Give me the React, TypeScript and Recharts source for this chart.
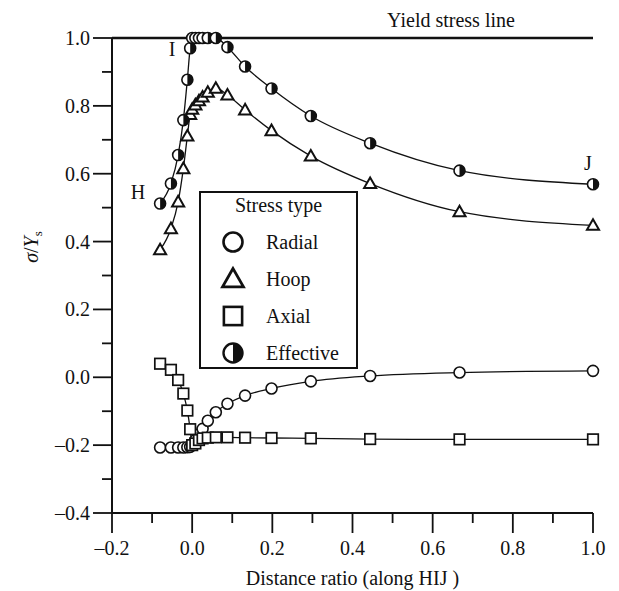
import React from 'react';
import { LineChart, Line, XAxis, YAxis, ReferenceLine, ReferenceDot, Legend } from 'recharts';

// Distance ratio along H–I–J for every sampled point
const distance = [-0.08, -0.053, -0.035, -0.022, -0.012, -0.005, 0, 0.008, 0.017, 0.026, 0.039, 0.059, 0.088, 0.132, 0.198, 0.296, 0.444, 0.667, 1.0];

// Normalised stresses sigma / Ys
const radial = [-0.207, -0.207, -0.207, -0.207, -0.206, -0.205, -0.2, -0.185, -0.168, -0.152, -0.128, -0.103, -0.078, -0.054, -0.033, -0.012, 0.004, 0.014, 0.019];
const hoop = [0.376, 0.438, 0.517, 0.615, 0.711, 0.775, 0.79, 0.803, 0.815, 0.826, 0.84, 0.852, 0.832, 0.788, 0.727, 0.652, 0.571, 0.488, 0.448];
const axial = [0.04, 0.022, -0.008, -0.048, -0.098, -0.153, -0.2, -0.195, -0.185, -0.18, -0.178, -0.177, -0.177, -0.178, -0.179, -0.18, -0.182, -0.183, -0.183];
const effective = [0.512, 0.571, 0.655, 0.758, 0.877, 0.97, 1, 1, 1, 1, 1, 1, 0.973, 0.916, 0.851, 0.77, 0.69, 0.609, 0.569];

const yieldStress = 1.0;

const xTicks = [-0.2, -0.1, 0, 0.1, 0.2, 0.3, 0.4, 0.5, 0.6, 0.7, 0.8, 0.9, 1.0];
const yTicks = [-0.4, -0.3, -0.2, -0.1, 0, 0.1, 0.2, 0.3, 0.4, 0.5, 0.6, 0.7, 0.8, 0.9, 1.0];

const seriesList = [
  { key: 'radial', name: 'Radial' },
  { key: 'hoop', name: 'Hoop' },
  { key: 'axial', name: 'Axial' },
  { key: 'effective', name: 'Effective' },
];

const pointLabels = [
  { text: 'H', x: -0.08, y: 0.512, dx: -22, dy: -12 },
  { text: 'I', x: 0, y: 1.0, dx: -20, dy: 11 },
  { text: 'J', x: 1.0, y: 0.569, dx: -5, dy: -21 },
];

const data = distance.map((d, i) => ({
  x: d,
  radial: radial[i],
  hoop: hoop[i],
  axial: axial[i],
  effective: effective[i],
}));

const FONT = '"Liberation Serif", "Times New Roman", serif';
const INK = '#111';

const fmt = (v: number) => (v < 0 ? '\u2013' : '') + Math.abs(v).toFixed(1);
const isMajor = (v: number) => Math.round(v * 10) % 2 === 0;

function marker(kind: string, cx: number, cy: number, s: number, key?: string) {
  if (cx == null || cy == null || isNaN(cx) || isNaN(cy)) return <g key={key} />;
  if (kind === 'radial') {
    return <circle key={key} cx={cx} cy={cy} r={s * 0.5} fill="#fff" stroke={INK} strokeWidth={s > 12 ? 2.6 : 1.6} />;
  }
  if (kind === 'hoop') {
    const h = s * 0.55;
    return (
      <polygon
        key={key}
        points={`${cx},${cy - h} ${cx - s * 0.55},${cy + h * 0.75} ${cx + s * 0.55},${cy + h * 0.75}`}
        fill="#fff"
        stroke={INK}
        strokeWidth={s > 12 ? 2.8 : 2}
        strokeLinejoin="miter"
      />
    );
  }
  if (kind === 'axial') {
    const h = s * 0.48;
    return <rect key={key} x={cx - h} y={cy - h} width={2 * h} height={2 * h} fill="#fff" stroke={INK} strokeWidth={s > 12 ? 2.6 : 1.7} />;
  }
  const r = s * 0.5;
  return (
    <g key={key}>
      <circle cx={cx} cy={cy} r={r} fill="#fff" stroke={INK} strokeWidth={s > 12 ? 2.4 : 1.6} />
      <path d={`M${cx},${cy - r} A${r},${r} 0 0 1 ${cx},${cy + r} Z`} fill={INK} />
    </g>
  );
}

function YTick(props: any) {
  const { x, y, payload } = props;
  const v = payload.value as number;
  const major = isMajor(v);
  return (
    <g>
      <line x1={x - (major ? 19 : 10)} x2={x} y1={y} y2={y} stroke={INK} strokeWidth={1.8} />
      {major && (
        <text x={x - 22} y={y} dy="0.35em" textAnchor="end" fontFamily={FONT} fontSize={20} fill={INK}>
          {fmt(v)}
        </text>
      )}
    </g>
  );
}

function XTick(props: any) {
  const { x, y, payload } = props;
  const v = payload.value as number;
  const major = isMajor(v);
  return (
    <g>
      <line x1={x} x2={x} y1={y} y2={y + (major ? 20 : 10)} stroke={INK} strokeWidth={1.8} />
      {major && (
        <text x={x} y={y + 42} textAnchor="middle" fontFamily={FONT} fontSize={20} fill={INK}>
          {fmt(v)}
        </text>
      )}
    </g>
  );
}

function YTitle(props: any) {
  const vb = props.viewBox || { x: 0, y: 0, width: 0, height: 0 };
  const cx = vb.x + 31;
  const cy = vb.y + vb.height * 0.44;
  return (
    <text x={cx} y={cy} transform={`rotate(-90 ${cx} ${cy})`} textAnchor="middle" fontFamily={FONT} fontSize={20} fill={INK} dy="0.35em">
      <tspan fontStyle="italic">σ</tspan>
      <tspan>/</tspan>
      <tspan fontStyle="italic">Y</tspan>
      <tspan fontSize={13} dy={4}>s</tspan>
    </text>
  );
}

function XTitle(props: any) {
  const vb = props.viewBox || { x: 0, y: 0, width: 0, height: 0 };
  return (
    <text x={vb.x + vb.width / 2} y={vb.y + 72} textAnchor="middle" fontFamily={FONT} fontSize={20} fill={INK}>
      Distance ratio (along HIJ )
    </text>
  );
}

function YieldLabel(props: any) {
  const vb = props.viewBox || { x: 0, y: 0, width: 0, height: 0 };
  return (
    <text x={vb.x + vb.width - 142} y={vb.y - 11} textAnchor="middle" fontFamily={FONT} fontSize={20} fill={INK}>
      Yield stress line
    </text>
  );
}

function makePointLabel(text: string, dx: number, dy: number) {
  return (props: any) => {
    const vb = props.viewBox || { x: 0, y: 0, width: 0, height: 0 };
    const cx = vb.x + vb.width / 2;
    const cy = vb.y + vb.height / 2;
    return (
      <text x={cx + dx} y={cy + dy} dy="0.35em" textAnchor="middle" fontFamily={FONT} fontSize={20} fill={INK}>
        {text}
      </text>
    );
  };
}

function StressLegend() {
  const w = 159;
  const h = 178;
  return (
    <svg width={w} height={h} style={{ display: 'block' }}>
      <rect x={1} y={1} width={w - 2} height={h - 2} fill="#fff" stroke={INK} strokeWidth={2} />
      <text x={w / 2} y={21} textAnchor="middle" fontFamily={FONT} fontSize={20} fill={INK}>
        Stress type
      </text>
      {seriesList.map((s, i) => {
        const cy = 51 + i * 37;
        return (
          <g key={s.key}>
            {marker(s.key, 34, cy, 19)}
            <text x={67} y={cy} dy="0.35em" fontFamily={FONT} fontSize={20} fill={INK}>
              {s.name}
            </text>
          </g>
        );
      })}
    </svg>
  );
}

export default function App() {
  return (
    <div style={{ position: 'absolute', left: 0, top: 0, background: '#fff' }}>
      <LineChart width={619} height={591} data={data} margin={{ top: 38, right: 26, left: 0, bottom: 0 }}>
        <XAxis
          dataKey="x"
          type="number"
          domain={[-0.2, 1.0]}
          ticks={xTicks}
          interval={0}
          height={78}
          tickSize={0}
          tickMargin={0}
          tickLine={false}
          tick={<XTick />}
          axisLine={{ stroke: INK, strokeWidth: 2 }}
          label={<XTitle />}
        />
        <YAxis
          type="number"
          domain={[-0.4, 1.0]}
          ticks={yTicks}
          interval={0}
          width={112}
          tickSize={0}
          tickMargin={0}
          tickLine={false}
          tick={<YTick />}
          axisLine={{ stroke: INK, strokeWidth: 2 }}
          label={<YTitle />}
        />
        <ReferenceLine y={yieldStress} stroke={INK} strokeWidth={2.5} label={<YieldLabel />} />
        {pointLabels.map((p) => (
          <ReferenceDot key={p.text} x={p.x} y={p.y} r={1} fill="none" stroke="none" label={makePointLabel(p.text, p.dx, p.dy)} />
        ))}
        {seriesList.map((s) => (
          <Line
            key={s.key}
            dataKey={s.key}
            name={s.name}
            type="monotone"
            stroke={INK}
            strokeWidth={1.3}
            isAnimationActive={false}
            dot={(p: any) => marker(s.key, p.cx, p.cy, 11, `${s.key}-${p.index}`)}
            activeDot={false}
          />
        ))}
        <Legend
          layout="vertical"
          align="center"
          verticalAlign="middle"
          content={<StressLegend />}
          wrapperStyle={{ left: 199, top: 191, width: 159, height: 178 }}
        />
      </LineChart>
    </div>
  );
}
